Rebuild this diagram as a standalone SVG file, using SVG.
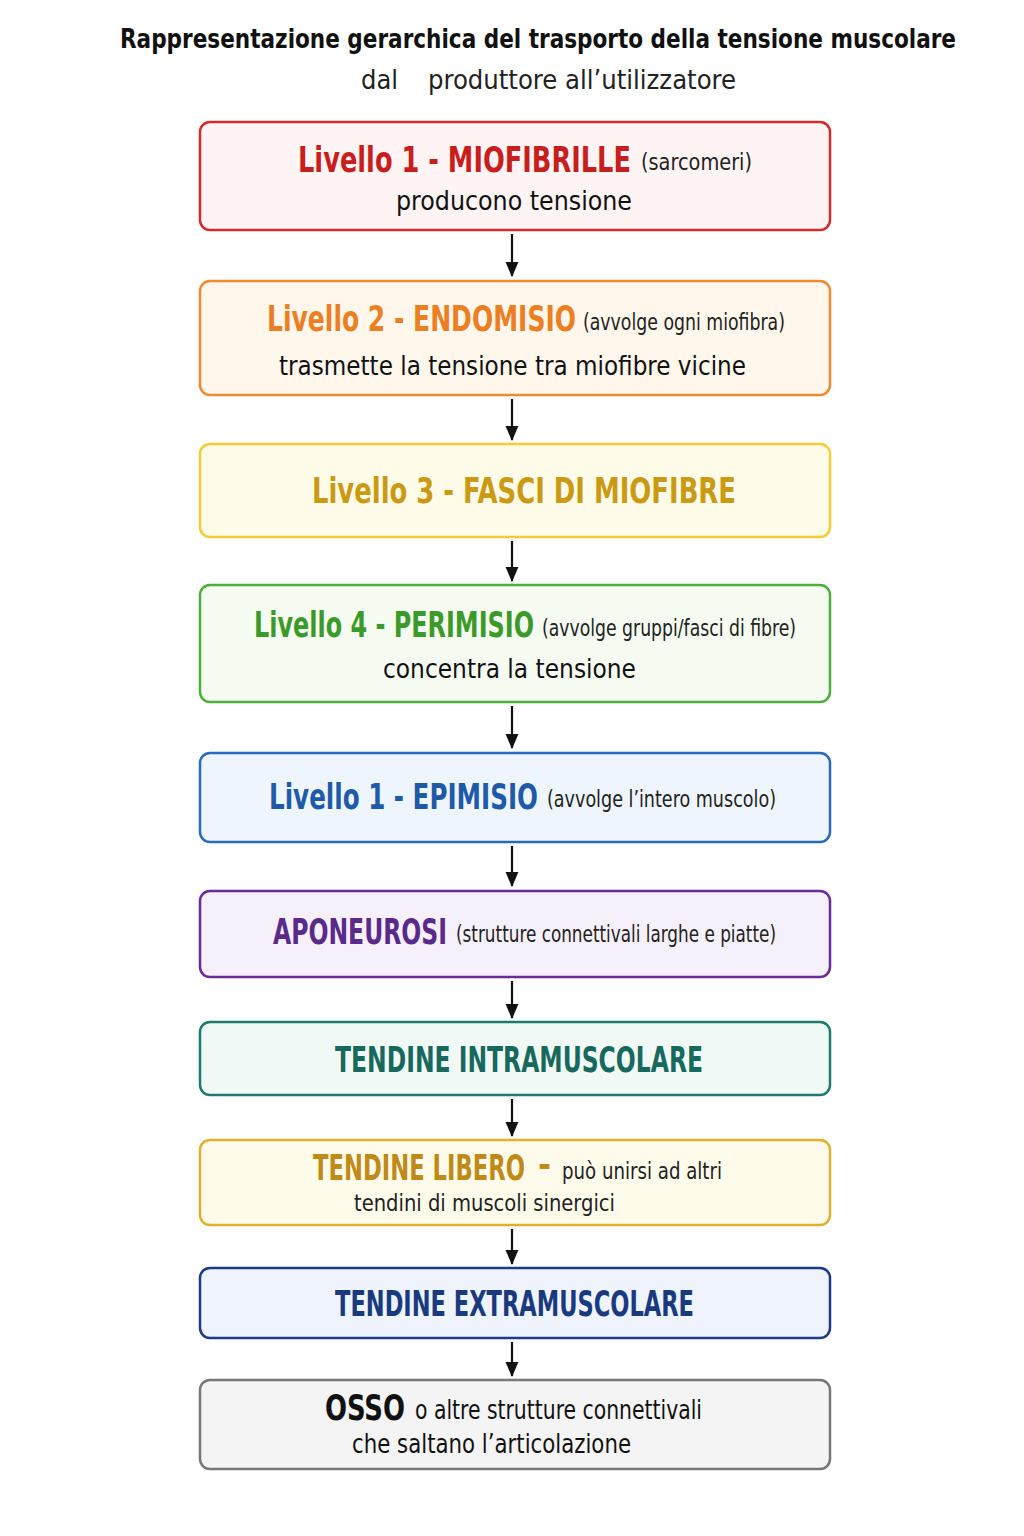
<svg xmlns="http://www.w3.org/2000/svg" width="1024" height="1536" viewBox="0 0 1024 1536">
<defs>
<marker id="arr" viewBox="0 0 14 14" refX="13" refY="7" markerWidth="15" markerHeight="15" markerUnits="userSpaceOnUse" orient="auto"><path d="M0,1 L14,7 L0,13 z" fill="#111"/></marker>
</defs>
<style>
text{font-family:"Liberation Sans Narrow","DejaVu Sans Condensed","Liberation Sans",sans-serif;}
.h{font-weight:bold;font-size:35px;}
.s{font-size:23px;fill:#222;}
.b{font-size:26px;fill:#111;}
.box{stroke-width:2.5;}
.c{stroke:#111;stroke-width:2.2;fill:none;}
</style>
<rect width="1024" height="1536" fill="#ffffff"/>
<g id="title">
<text x="120" y="48" font-size="27" font-weight="bold" fill="#111" textLength="836" lengthAdjust="spacingAndGlyphs">Rappresentazione gerarchica del trasporto della tensione muscolare</text>
<text x="361" y="89" font-size="26" fill="#222" textLength="37" lengthAdjust="spacingAndGlyphs">dal</text>
<text x="428" y="89" font-size="26" fill="#222" textLength="308" lengthAdjust="spacingAndGlyphs">produttore all’utilizzatore</text>
</g>
<g id="connectors">
<line class="c" x1="512" y1="234" x2="512" y2="276" marker-end="url(#arr)"/>
<line class="c" x1="512" y1="399" x2="512" y2="440" marker-end="url(#arr)"/>
<line class="c" x1="512" y1="541" x2="512" y2="581" marker-end="url(#arr)"/>
<line class="c" x1="512" y1="706" x2="512" y2="748" marker-end="url(#arr)"/>
<line class="c" x1="512" y1="846" x2="512" y2="886" marker-end="url(#arr)"/>
<line class="c" x1="512" y1="981" x2="512" y2="1018" marker-end="url(#arr)"/>
<line class="c" x1="512" y1="1099" x2="512" y2="1136" marker-end="url(#arr)"/>
<line class="c" x1="512" y1="1229" x2="512" y2="1264" marker-end="url(#arr)"/>
<line class="c" x1="512" y1="1342" x2="512" y2="1376" marker-end="url(#arr)"/>
</g>
<g id="n1">
<rect class="box" x="200" y="122" width="630" height="108" rx="10" fill="#fff4f4" stroke="#d42a2a"/>
<text class="h" x="298" y="172" fill="#c81e1e" textLength="333" lengthAdjust="spacingAndGlyphs">Livello 1 - MIOFIBRILLE</text>
<text class="s" x="641" y="170" textLength="111" lengthAdjust="spacingAndGlyphs">(sarcomeri)</text>
<text class="b" x="396" y="210" textLength="236" lengthAdjust="spacingAndGlyphs">producono tensione</text>
</g>
<g id="n2">
<rect class="box" x="200" y="281" width="630" height="114" rx="10" fill="#fff6ec" stroke="#f08a30"/>
<text class="h" x="267" y="331" fill="#ec7f22" textLength="309" lengthAdjust="spacingAndGlyphs">Livello 2 - ENDOMISIO</text>
<text class="s" x="583" y="330" textLength="202" lengthAdjust="spacingAndGlyphs">(avvolge ogni miofibra)</text>
<text class="b" x="279" y="375" textLength="467" lengthAdjust="spacingAndGlyphs">trasmette la tensione tra miofibre vicine</text>
</g>
<g id="n3">
<rect class="box" x="200" y="444" width="630" height="93" rx="10" fill="#fffbe9" stroke="#f5cc33"/>
<text class="h" x="312" y="503" fill="#c99a12" textLength="424" lengthAdjust="spacingAndGlyphs">Livello 3 - FASCI DI MIOFIBRE</text>
</g>
<g id="n4">
<rect class="box" x="200" y="585" width="630" height="117" rx="10" fill="#f5fbf1" stroke="#4caf3c"/>
<text class="h" x="254" y="637" fill="#3c9a2a" textLength="280" lengthAdjust="spacingAndGlyphs">Livello 4 - PERIMISIO</text>
<text class="s" x="542" y="636" textLength="254" lengthAdjust="spacingAndGlyphs">(avvolge gruppi/fasci di fibre)</text>
<text class="b" x="383" y="678" textLength="253" lengthAdjust="spacingAndGlyphs">concentra la tensione</text>
</g>
<g id="n5">
<rect class="box" x="200" y="753" width="630" height="89" rx="10" fill="#eef5fd" stroke="#2a6ab8"/>
<text class="h" x="269" y="809" fill="#1f5aa8" textLength="269" lengthAdjust="spacingAndGlyphs">Livello 1 - EPIMISIO</text>
<text class="s" x="547" y="807" textLength="229" lengthAdjust="spacingAndGlyphs">(avvolge l’intero muscolo)</text>
</g>
<g id="n6">
<rect class="box" x="200" y="891" width="630" height="86" rx="10" fill="#f6f0fb" stroke="#6a2a98"/>
<text class="h" x="273" y="944" fill="#5a2a8a" font-size="32" textLength="174" lengthAdjust="spacingAndGlyphs">APONEUROSI</text>
<text class="s" x="456" y="942" textLength="320" lengthAdjust="spacingAndGlyphs">(strutture connettivali larghe e piatte)</text>
</g>
<g id="n7">
<rect class="box" x="200" y="1022" width="630" height="73" rx="10" fill="#f1f9f7" stroke="#1d7a6e"/>
<text class="h" x="335" y="1072" fill="#17695e" font-size="32" textLength="368" lengthAdjust="spacingAndGlyphs">TENDINE INTRAMUSCOLARE</text>
</g>
<g id="n8">
<rect class="box" x="200" y="1140" width="630" height="85" rx="10" fill="#fffbeb" stroke="#e0b030"/>
<text class="h" x="313" y="1180" fill="#c08a18" font-size="31" textLength="212" lengthAdjust="spacingAndGlyphs">TENDINE LIBERO</text>
<text class="h" x="538" y="1177" fill="#c08a18" font-size="26">-</text>
<text class="s" x="562" y="1179" fill="#111" textLength="160" lengthAdjust="spacingAndGlyphs">può unirsi ad altri</text>
<text class="s" x="354" y="1211" fill="#111" textLength="261" lengthAdjust="spacingAndGlyphs">tendini di muscoli sinergici</text>
</g>
<g id="n9">
<rect class="box" x="200" y="1268" width="630" height="70" rx="10" fill="#eef3fc" stroke="#1d3a85"/>
<text class="h" x="335" y="1316" fill="#1a3a80" font-size="32" textLength="359" lengthAdjust="spacingAndGlyphs">TENDINE EXTRAMUSCOLARE</text>
</g>
<g id="n10">
<rect class="box" x="200" y="1380" width="630" height="89" rx="10" fill="#f4f4f4" stroke="#777777"/>
<text class="h" x="325" y="1420" fill="#111" textLength="80" lengthAdjust="spacingAndGlyphs">OSSO</text>
<text class="b" x="415" y="1419" textLength="287" lengthAdjust="spacingAndGlyphs">o altre strutture connettivali</text>
<text class="b" x="352" y="1453" textLength="279" lengthAdjust="spacingAndGlyphs">che saltano l’articolazione</text>
</g>
</svg>
